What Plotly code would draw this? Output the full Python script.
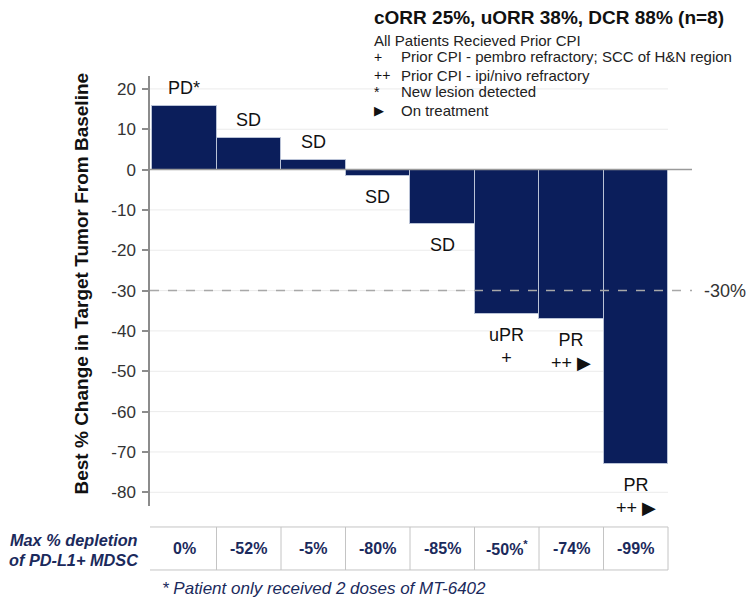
import plotly.graph_objects as go

# ---------------- data ----------------
patients = list(range(8))
best_change = [15.8, 7.8, 2.3, -1.6, -13.5, -35.9, -37.1, -73.0]
response = ["PD*", "SD", "SD", "SD", "SD", "uPR", "PR", "PR"]
markers = ["", "", "", "", "", "+", "++ ▶", "++ ▶"]
mdsc_depletion = [0, -52, -5, -80, -85, -50, -74, -99]
mdsc_partial = [False, False, False, False, False, True, False, False]
y_ticks = [20, 10, 0, -10, -20, -30, -40, -50, -60, -70, -80]
y_tick_labels = ["20", "10", "0", "-10", "-20", "-30", "-40", "-50", "-60", "-70", "-80"]
threshold = -30

title_text = "cORR 25%, uORR 38%, DCR 88% (n=8)"
subtitle_text = "All Patients Recieved Prior CPI"
legend_symbols = ["+", "++", "*", "▶"]
legend_texts = ["Prior CPI - pembro refractory; SCC of H&N region",
                "Prior CPI - ipi/nivo refractory",
                "New lesion detected",
                "On treatment"]
row_label = ["Max % depletion", "of PD-L1+ MDSC"]
footnote = "* Patient only received 2 doses of MT-6402"
y_title = "Best % Change in Target Tumor From Baseline"

# ---------------- style ----------------
FONT = "Arial, Liberation Sans, sans-serif"
NAVY = "#0b1e5b"
TXT_NAVY = "#1b2a5c"
XR = [-0.531, 7.872]
YR = [-83.4, 23.2]

fig = go.Figure()
fig.add_trace(go.Bar(
    x=patients, y=best_change, width=1,
    marker=dict(color=NAVY, line=dict(color="#b9c2d6", width=1)),
    hoverinfo="skip", showlegend=False,
))

shapes = []
# faint gridlines (stop at last bar edge)
for t in y_ticks:
    if t == 0:
        continue
    shapes.append(dict(type="line", xref="x", yref="y", x0=XR[0], x1=patients[-1] + 0.5,
                       y0=t, y1=t, line=dict(color="#ebebeb", width=1), layer="below"))
# zero line
shapes.append(dict(type="line", xref="x", yref="y", x0=XR[0], x1=XR[1], y0=0, y1=0,
                   line=dict(color="#9a9a9a", width=1.5), layer="above"))
# -30% threshold
shapes.append(dict(type="line", xref="x", yref="y", x0=XR[0], x1=XR[1], y0=threshold, y1=threshold,
                   line=dict(color="#a8a8a8", width=1.5, dash="dash"), layer="above"))

# table under the chart
T_TOP, T_BOT = -0.0488, -0.1488
shapes.append(dict(type="rect", xref="x", yref="paper", x0=patients[0] - 0.56, x1=patients[-1] + 0.5,
                   y0=T_BOT, y1=T_TOP, line=dict(color="#c4c4c4", width=1)))
for p in patients[1:]:
    shapes.append(dict(type="line", xref="x", yref="paper", x0=p - 0.5, x1=p - 0.5,
                       y0=T_BOT, y1=T_TOP, line=dict(color="#c4c4c4", width=1)))

annotations = []
# bar labels
for p, v, r, m in zip(patients, best_change, response, markers):
    txt = r if not m else r + "<br>" + m
    if v >= 0:
        annotations.append(dict(x=p, y=v, xref="x", yref="y", text=txt, showarrow=False,
                                yanchor="bottom", yshift=6, font=dict(family=FONT, size=18, color="#111")))
    else:
        annotations.append(dict(x=p, y=v, xref="x", yref="y", text=txt, showarrow=False,
                                yanchor="top", yshift=-9, font=dict(family=FONT, size=18, color="#111")))

# -30% label
annotations.append(dict(x=1.0185, y=threshold, xref="paper", yref="y", text=f"{threshold}%",
                        showarrow=False, xanchor="left", yanchor="middle",
                        font=dict(family=FONT, size=18, color="#333")))

# table values
for p, d, part in zip(patients, mdsc_depletion, mdsc_partial):
    txt = f"<b>{d}%</b>" + ("<sup><b>*</b></sup>" if part else "")
    annotations.append(dict(x=p, y=(T_TOP + T_BOT) / 2, xref="x", yref="paper", text=txt,
                            showarrow=False, xanchor="center", yanchor="middle",
                            font=dict(family=FONT, size=16, color=TXT_NAVY)))

# row label
for line, yp in zip(row_label, [-0.0791, -0.1256]):
    annotations.append(dict(x=-0.0185, y=yp, xref="paper", yref="paper", text=f"<b><i>{line}</i></b>",
                            showarrow=False, xanchor="right", yanchor="middle",
                            font=dict(family=FONT, size=16.3, color=TXT_NAVY)))

# footnote
annotations.append(dict(x=0.0185, y=-0.193, xref="paper", yref="paper", text=f"<i>{footnote}</i>",
                        showarrow=False, xanchor="left", yanchor="middle",
                        font=dict(family=FONT, size=17, color=TXT_NAVY)))

# y axis title
annotations.append(dict(x=-0.1255, y=0.5174, xref="paper", yref="paper", text=f"<b>{y_title}</b>",
                        textangle=-90, showarrow=False, xanchor="center", yanchor="middle",
                        font=dict(family=FONT, size=19, color="#111")))

# title and legend block
annotations.append(dict(x=0.4096, y=1.137, xref="paper", yref="paper", text=f"<b>{title_text}</b>",
                        showarrow=False, xanchor="left", yanchor="middle",
                        font=dict(family=FONT, size=19, color="#111")))
annotations.append(dict(x=0.4096, y=1.0837, xref="paper", yref="paper", text=subtitle_text,
                        showarrow=False, xanchor="left", yanchor="middle",
                        font=dict(family=FONT, size=15, color="#222")))
for sym, txt, yp in zip(legend_symbols, legend_texts, [1.0442, 1.0012, 0.9628, 0.9209]):
    annotations.append(dict(x=0.4096, y=yp, xref="paper", yref="paper", text=sym,
                            showarrow=False, xanchor="left", yanchor="middle",
                            font=dict(family=FONT, size=14 if sym != "▶" else 13, color="#111")))
    annotations.append(dict(x=0.459, y=yp, xref="paper", yref="paper", text=txt,
                            showarrow=False, xanchor="left", yanchor="middle",
                            font=dict(family=FONT, size=15, color="#222")))

fig.update_layout(
    width=746, height=603,
    margin=dict(l=150, r=54, t=76, b=97),
    paper_bgcolor="white", plot_bgcolor="white",
    bargap=0,
    shapes=shapes, annotations=annotations,
    xaxis=dict(range=XR, visible=False, fixedrange=True),
    yaxis=dict(range=YR, tickvals=y_ticks, ticktext=y_tick_labels, ticks="outside", ticklen=6,
               tickwidth=1.5, tickcolor="#8c8c8c", showline=True, linecolor="#8c8c8c", linewidth=1.5,
               showgrid=False, zeroline=False, ticklabelstandoff=3, fixedrange=True,
               tickfont=dict(family=FONT, size=17, color="#333")),
)

fig.write_html("out.html", config={"displayModeBar": False},
               post_script="document.body.style.margin='0';document.body.style.overflow='hidden';")
